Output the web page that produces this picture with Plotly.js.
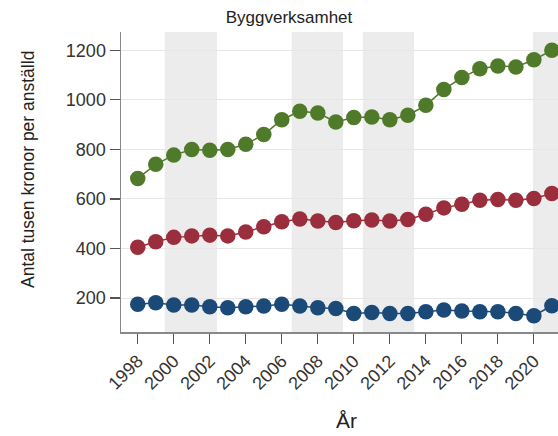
<!DOCTYPE html>
<html>
<head>
<meta charset="utf-8">
<script src="https://cdn.plot.ly/plotly-3.0.1.min.js"></script>
<style>html,body{margin:0;padding:0;background:#fff;}#chart{width:558px;height:436px;}</style>
</head>
<body>
<div id="chart"></div>
<script>
const years = [1998,1999,2000,2001,2002,2003,2004,2005,2006,2007,2008,2009,2010,2011,2012,2013,2014,2015,2016,2017,2018,2019,2020,2021];
const seriesGreen = [683,740,777,800,797,800,821,860,920,954,947,911,929,931,920,938,978,1042,1090,1126,1137,1133,1162,1200];
const seriesRed = [405,427,445,451,454,451,467,488,508,519,511,505,512,515,511,517,538,564,579,595,598,595,602,622];
const seriesBlue = [175,181,172,172,165,161,165,168,175,168,161,158,138,142,138,138,145,152,148,145,145,138,129,169];
const bandStarts = [1999.5, 2006.55, 2010.5, 2019.95];
const bandEnds = [2002.4, 2009.4, 2013.35, 2023];
const yTicks = [200,400,600,800,1000,1200];
const xTicks = [1998,2000,2002,2004,2006,2008,2010,2012,2014,2016,2018,2020];

const colors = {green:'#4f7a2a', red:'#9b2e3c', blue:'#1c4a78'};
function tr(y, c){
  return {x: years, y: y, type:'scatter', mode:'lines+markers',
    line:{color:c, width:1.5}, marker:{color:c, size:15.5}, hoverinfo:'skip'};
}
const shapes = bandStarts.map((s,i)=>({type:'rect', xref:'x', yref:'paper', x0:s, x1:bandEnds[i], y0:0, y1:1,
  fillcolor:'#ececec', line:{width:0}, layer:'below'}));

const font = 'Arial, "Liberation Sans", sans-serif';
const layout = {
  width:558, height:436,
  margin:{l:121, r:0, t:32, b:104},
  paper_bgcolor:'#fff', plot_bgcolor:'#fff',
  showlegend:false,
  font:{family:font, color:'#333'},
  title:{text:'Byggverksamhet', font:{size:17, color:'#222', family:font}, x:289/558, xanchor:'center', xref:'container', y:1-17/436, yanchor:'middle', yref:'container'},
  xaxis:{range:[1997.07, 2021.34], tickvals:xTicks, ticktext:xTicks.map(String), tickangle:-45,
    ticks:'outside', ticklen:10, tickcolor:'#555', tickwidth:1.2,
    showline:true, linecolor:'#888', linewidth:1.5, showgrid:false, zeroline:false,
    tickfont:{size:18, color:'#333', family:font}},
  yaxis:{range:[63, 1274], tickvals:yTicks, ticktext:yTicks.map(String),
    ticks:'outside', ticklen:10, tickcolor:'#555', tickwidth:1.2,
    showline:true, linecolor:'#888', linewidth:1.5, showgrid:true, gridcolor:'#e6e6e6', gridwidth:1, zeroline:false,
    tickfont:{size:18, color:'#333', family:font}},
  shapes: shapes,
  annotations:[
    {text:'År', xref:'paper', yref:'paper', x:(346-121)/437, y:-(420-332)/300, xanchor:'center', yanchor:'middle', showarrow:false, font:{size:21, color:'#222', family:font}},
    {text:'Antal tusen kronor per anställd', textangle:-90, xref:'paper', yref:'paper', x:(28-121)/437, y:(332-170)/300, xanchor:'center', yanchor:'middle', showarrow:false, font:{size:17.5, color:'#222', family:font}}
  ]
};
Plotly.newPlot('chart', [tr(seriesGreen, colors.green), tr(seriesRed, colors.red), tr(seriesBlue, colors.blue)], layout, {staticPlot:true, displayModeBar:false});
</script>
</body>
</html>
